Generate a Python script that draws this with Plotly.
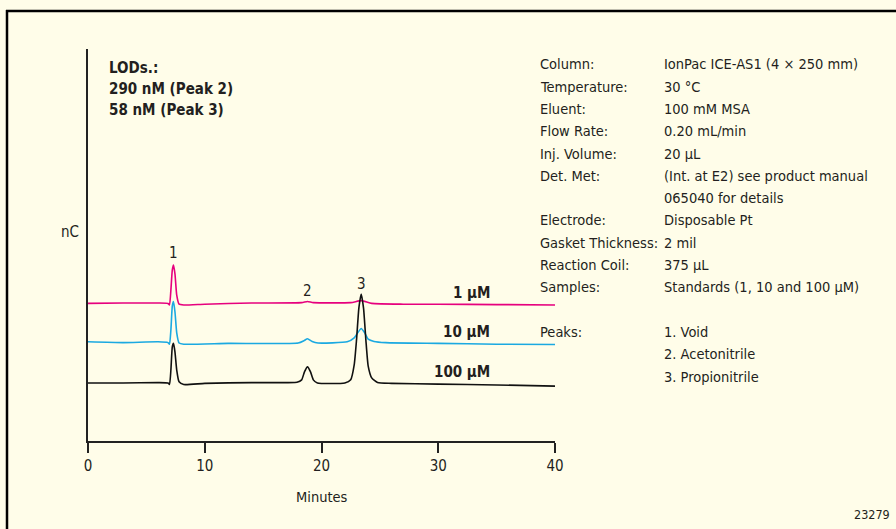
import plotly.graph_objects as go

# ---------------- data ----------------
t_1uM = [0, 3, 6, 6.85, 6.98, 7.1, 7.22, 7.32, 7.45, 7.6, 7.8, 8.2, 10, 14, 18.3, 18.8, 19.3,
         22.5, 23.4, 24.3, 27, 30, 35, 40]
y_1uM = [35.1, 35.2, 35.2, 35.1, 34.7, 38.5, 43.6, 44.9, 42.6, 37.2, 34.9, 34.7, 34.9, 35.2, 35.3, 35.6, 35.3,
         35.3, 35.8, 35.1, 34.9, 34.9, 34.8, 34.7]

t_10uM = [0, 3, 6, 6.85, 6.98, 7.1, 7.22, 7.32, 7.45, 7.6, 7.8, 8.2, 12, 18, 18.5, 18.8, 19.2, 19.7,
          22.2, 22.8, 23.1, 23.4, 23.7, 24.0, 24.5, 25.5, 30, 35, 40]
y_10uM = [25.3, 25.1, 25.3, 25.1, 24.7, 28.3, 34.4, 35.6, 32.9, 27.6, 25.0, 24.7, 24.9, 25.0, 25.6, 26.1, 25.4, 25.0,
          25.3, 26.3, 27.6, 28.7, 27.6, 26.0, 25.4, 25.1, 24.9, 24.7, 24.6]

t_100uM = [0, 3, 6, 6.85, 6.98, 7.1, 7.22, 7.32, 7.45, 7.6, 7.8, 8.2, 10, 14, 17.9, 18.3, 18.55, 18.8, 19.05,
           19.3, 19.65, 22.0, 22.5, 22.8, 23.0, 23.2, 23.4, 23.6, 23.8, 24.0, 24.3, 24.8, 26, 30, 35, 40]
y_100uM = [14.8, 14.8, 14.9, 14.8, 14.4, 18.1, 24.0, 24.9, 22.7, 18.1, 15.1, 14.4, 14.7, 14.9, 15.0, 15.6, 17.7, 18.9, 17.7,
           15.6, 14.8, 14.8, 15.6, 19.4, 25.8, 33.9, 37.5, 33.9, 25.8, 19.1, 16.1, 14.9, 14.7, 14.5, 14.3, 14.0]

series_names = ["1 µM", "10 µM", "100 µM"]
series_colors = ["#E6007E", "#1BA9E1", "#111111"]
series_label_y = [37.8, 27.9, 17.7]
series_label_x = 34.6

peak_numbers = ["1", "2", "3"]
peak_times = [7.3, 18.8, 23.4]
peak_label_y = [48.0, 38.3, 40.1]

x_ticks = [0, 10, 20, 30, 40]

lod_lines = ["LODs.:", "290 nM (Peak 2)", "58 nM (Peak 3)"]

info_labels = ["Column:", "Temperature:", "Eluent:", "Flow Rate:", "Inj. Volume:", "Det. Met:", "",
               "Electrode:", "Gasket Thickness:", "Reaction Coil:", "Samples:", "", "Peaks:", "", ""]
info_values = ["IonPac ICE-AS1 (4 × 250 mm)", "30 °C", "100 mM MSA", "0.20 mL/min", "20 µL",
               "(Int. at E2) see product manual", "065040 for details", "Disposable Pt", "2 mil",
               "375 µL", "Standards (1, 10 and 100 µM)", "", "1. Void", "2. Acetonitrile",
               "3. Propionitrile"]

figure_id = "23279"

# ---------------- figure ----------------
FONT = "DejaVu Sans Condensed, Liberation Sans Narrow, Arial Narrow, sans-serif"
TXT = "#231F20"
BG = "#FFFDE9"
FS = 14.5

W, H = 896, 529
L, R, T, B = 88, 341, 49, 88
PW, PH = W - L - R, H - T - B


def px(xp):
    return (xp - L) / PW


def py(yp):
    return (H - B - yp) / PH


fig = go.Figure()
for t, y, name, col in zip([t_1uM, t_10uM, t_100uM], [y_1uM, y_10uM, y_100uM], series_names, series_colors):
    fig.add_trace(go.Scatter(x=t, y=y, mode="lines", name=name,
                             line=dict(color=col, width=1.6, shape="spline", smoothing=0.5),
                             hoverinfo="skip"))

ann = []
for name, yv in zip(series_names, series_label_y):
    ann.append(dict(x=series_label_x, y=yv, xref="x", yref="y", text=f"<b>{name}</b>",
                    xanchor="right", yanchor="middle", showarrow=False,
                    font=dict(size=15, family=FONT, color=TXT)))
for n, tx, yv in zip(peak_numbers, peak_times, peak_label_y):
    ann.append(dict(x=tx, y=yv, xref="x", yref="y", text=n, xanchor="center", yanchor="middle",
                    showarrow=False, font=dict(size=15, family=FONT, color=TXT)))
for i, line in enumerate(lod_lines):
    ann.append(dict(x=px(107), y=py(68 + 21 * i), xref="paper", yref="paper", text=f"<b>{line}</b>",
                    xanchor="left", yanchor="middle", showarrow=False,
                    font=dict(size=15, family=FONT, color=TXT)))
for i, (lab, val) in enumerate(zip(info_labels, info_values)):
    yy = py(64.3 + 22.3 * i)
    if lab:
        ann.append(dict(x=px(538), y=yy, xref="paper", yref="paper", text=lab, xanchor="left",
                        yanchor="middle", showarrow=False, font=dict(size=FS, family=FONT, color=TXT)))
    if val:
        ann.append(dict(x=px(662), y=yy, xref="paper", yref="paper", text=val, xanchor="left",
                        yanchor="middle", showarrow=False, font=dict(size=FS, family=FONT, color=TXT)))
ann.append(dict(x=px(70), y=py(232), xref="paper", yref="paper", text="nC", xanchor="center",
                yanchor="middle", showarrow=False, font=dict(size=15, family=FONT, color=TXT)))
ann.append(dict(x=0.5, y=py(497), xref="paper", yref="paper", text="Minutes", xanchor="center",
                yanchor="middle", showarrow=False, font=dict(size=FS, family=FONT, color=TXT)))
ann.append(dict(x=px(872), y=py(514), xref="paper", yref="paper", text=figure_id, xanchor="center",
                yanchor="middle", showarrow=False, font=dict(size=12.5, family=FONT, color=TXT)))

shapes = [
    dict(type="line", xref="paper", yref="paper", x0=px(6), x1=px(900), y0=py(11), y1=py(11),
         line=dict(color="#000000", width=2.5)),
    dict(type="line", xref="paper", yref="paper", x0=px(7), x1=px(7), y0=py(10), y1=py(540),
         line=dict(color="#000000", width=2.5)),
]

fig.update_layout(
    width=W, height=H,
    margin=dict(l=L, r=R, t=T, b=B),
    paper_bgcolor=BG, plot_bgcolor=BG,
    showlegend=False,
    annotations=ann, shapes=shapes,
    font=dict(family=FONT, color=TXT, size=FS),
    xaxis=dict(range=[0, 40], tickvals=x_ticks, ticktext=[str(v) for v in x_ticks],
               showgrid=False, zeroline=False, showline=True, linecolor="#222", linewidth=1.5,
               ticks="outside", ticklen=10, tickwidth=1.5, tickcolor="#222",
               tickfont=dict(size=15, family=FONT, color=TXT)),
    yaxis=dict(range=[0, 100], showgrid=False, zeroline=False, showline=True, linecolor="#222",
               linewidth=1.5, ticks="", showticklabels=False),
)

fig.write_html("out.html", config={"displayModeBar": False},
               post_script="document.body.style.margin='0';document.body.style.overflow='hidden';")
